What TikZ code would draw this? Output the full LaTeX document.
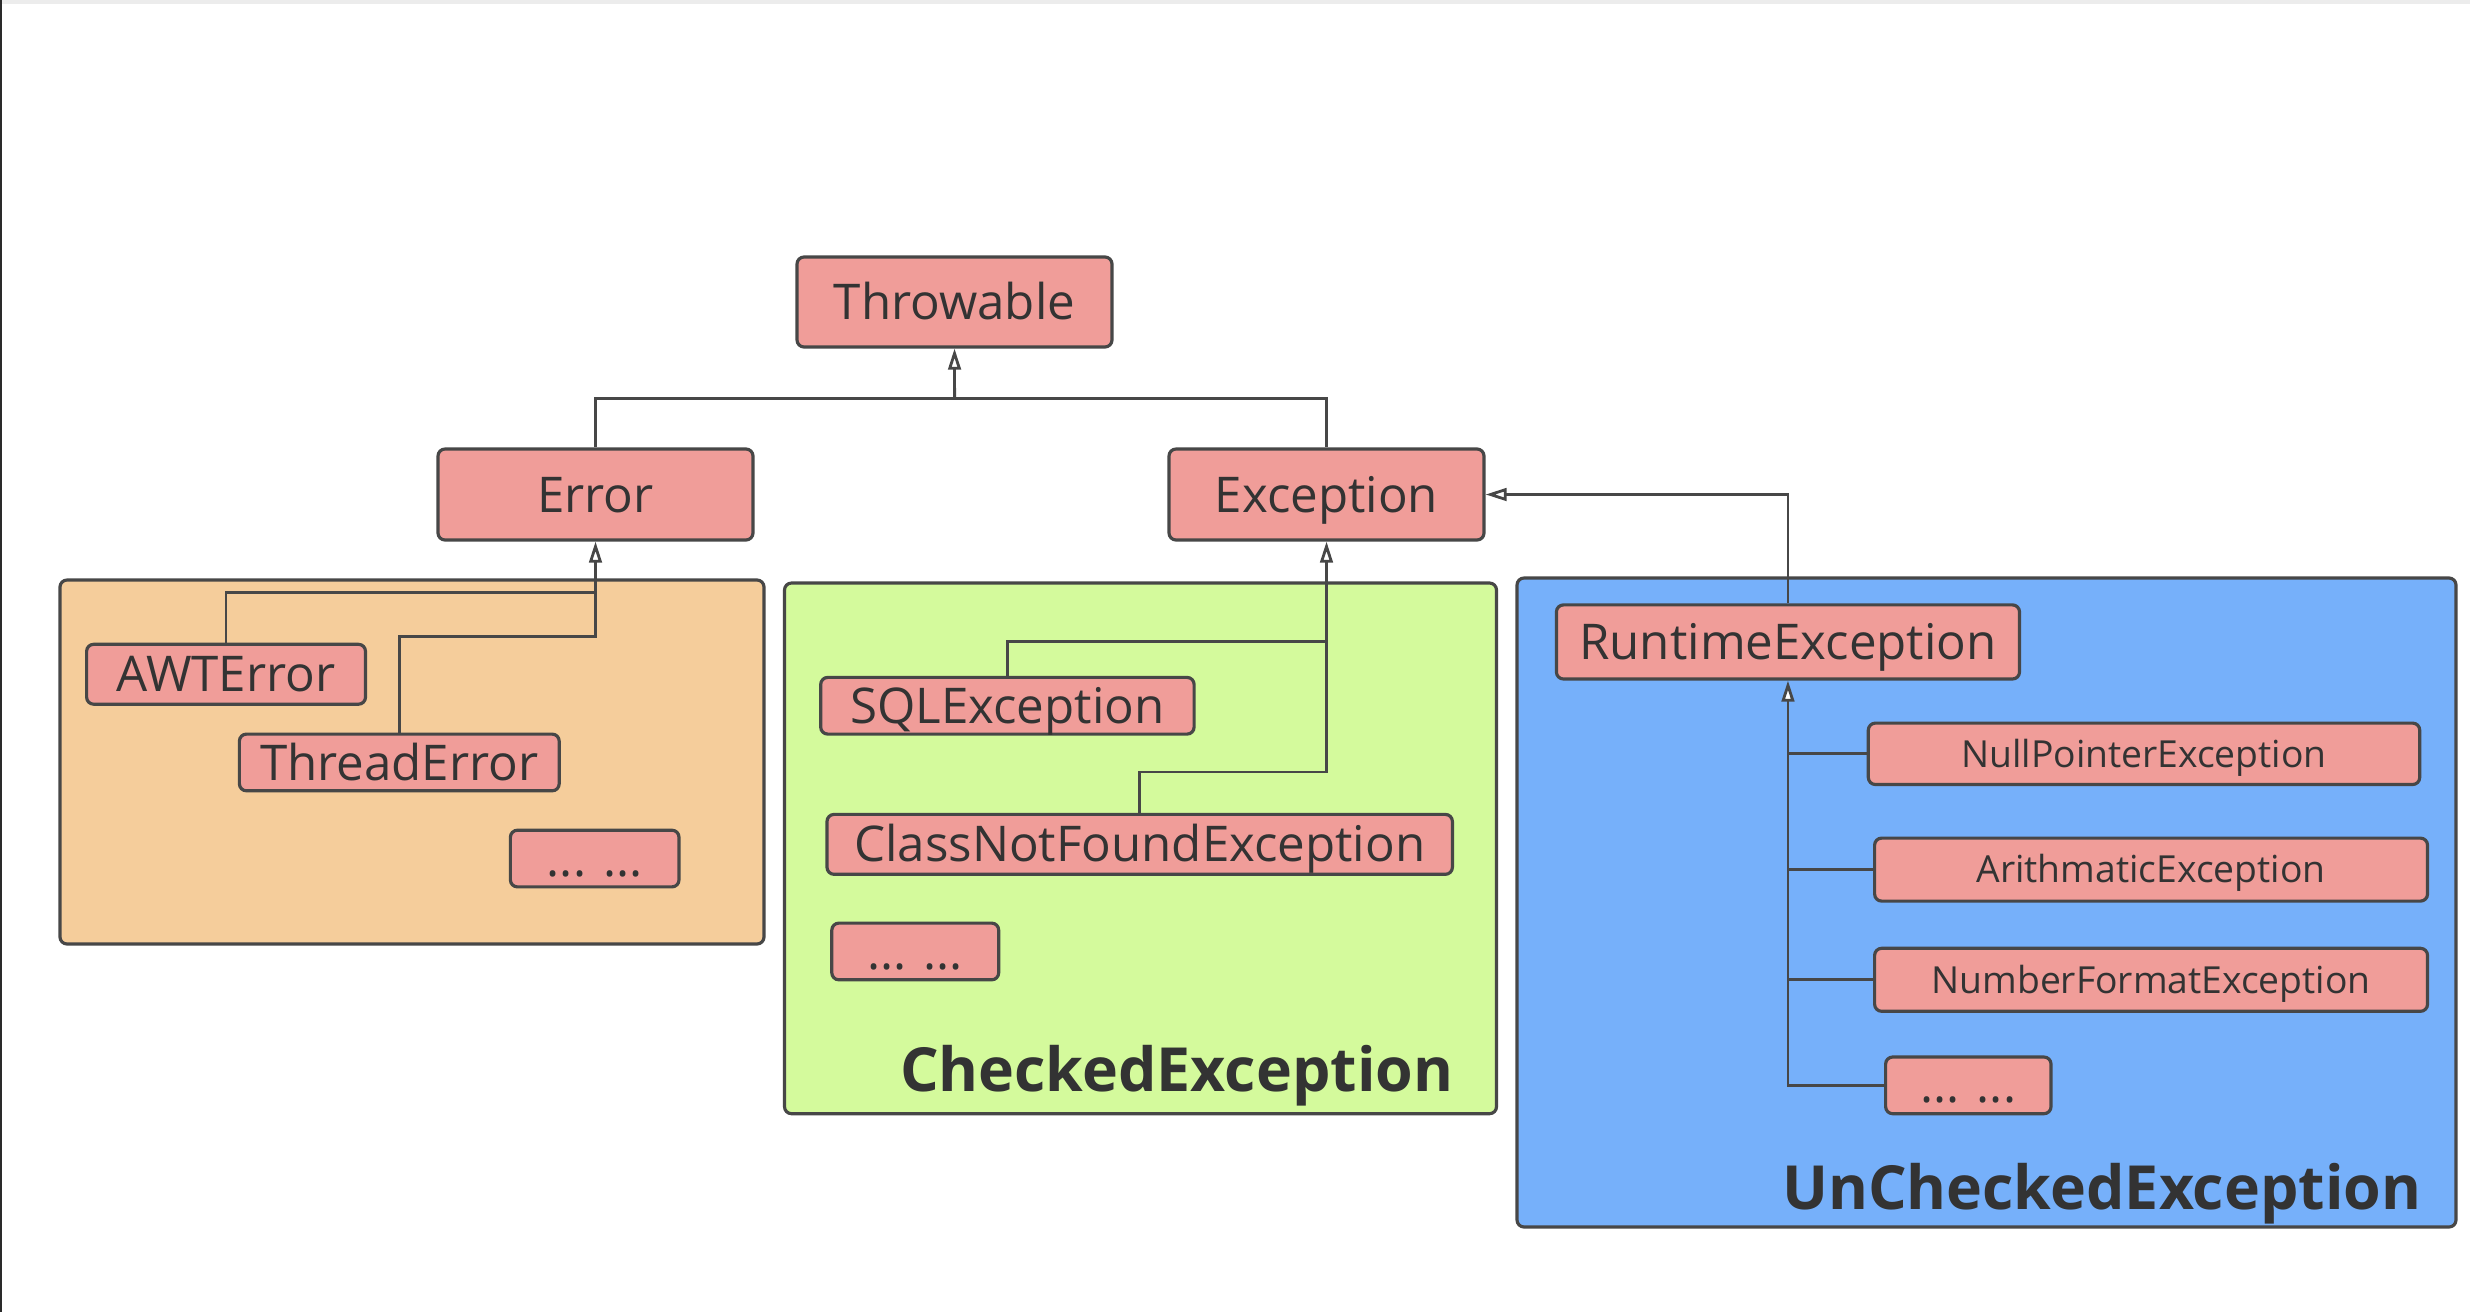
\documentclass[tikz,border=0pt]{standalone}
\usepackage{fontspec}
\setmainfont{Open Sans}
\usetikzlibrary{arrows.meta}
\definecolor{boxfill}{HTML}{F09D99}
\definecolor{edgec}{HTML}{474747}
\definecolor{txtc}{HTML}{333333}
\definecolor{orangefill}{HTML}{F5CD9B}
\definecolor{greenfill}{HTML}{D4FA9C}
\definecolor{bluefill}{HTML}{76B0FA}
\definecolor{topband}{HTML}{ECECEC}
\definecolor{leftedge}{HTML}{2A2A2A}
\newcommand\mkbox[7]{\node[#7, minimum width={(#4-#2)*0.01cm}, minimum height={(#5-#3)*0.01cm}] (#1) at ({(#2+#4)/2},{(#3+#5)/2}) {#6};}
\tikzset{
  pbox/.style={draw=edgec, fill=boxfill, line width=0.9pt, rounded corners=2pt, inner sep=0pt,
    text=txtc, font=\fontsize{14}{16}\selectfont, text height=10pt, text depth=0pt},
  sbox/.style={pbox, font=\fontsize{10.6}{12}\selectfont, text height=7.6pt},
  region/.style={draw=edgec, line width=0.9pt, rounded corners=2pt, inner sep=0pt},
  conn/.style={draw=edgec, line width=0.8pt},
  inh/.style={conn, -{Triangle[length=6pt,width=3.6pt,fill=white]}},
  biglabel/.style={text=txtc, inner sep=0pt, font=\fontsize{17.3}{20}\selectfont\bfseries}
}
\begin{document}
\begin{tikzpicture}[x=0.01cm,y=-0.01cm]
\fill[white] (0,0) rectangle (2470,1312);
\useasboundingbox (0,0) rectangle (2470,1312);
\fill[topband] (0,0) rectangle (2470,4);
\fill[leftedge] (0,0) rectangle (2,1312);

% regions
\mkbox{regErr}{60}{580}{764}{944}{}{region, fill=orangefill}
\mkbox{regChk}{784.5}{583}{1496.5}{1113.7}{}{region, fill=greenfill}
\mkbox{regUnc}{1517}{578}{2456}{1227}{}{region, fill=bluefill}

% classes
\mkbox{thr}{797}{257}{1112}{347}{Throwable}{pbox}
\mkbox{err}{438}{449}{753}{540}{Error}{pbox}
\mkbox{exc}{1169}{449}{1484}{540}{Exception}{pbox}
\mkbox{awt}{86.6}{644.3}{365.5}{704.2}{AWTError}{pbox}
\mkbox{thd}{239.4}{734.1}{559.2}{790.8}{ThreadError}{pbox}
\mkbox{odots}{510.4}{830.2}{679}{886.9}{... ...}{pbox}
\mkbox{sql}{820.7}{677.4}{1194.1}{734.1}{SQLException}{pbox}
\mkbox{cnf}{827}{814.4}{1452.4}{874.3}{ClassNotFoundException}{pbox}
\mkbox{gdots}{831.8}{923.1}{998.7}{979.8}{... ...}{pbox}
\mkbox{rte}{1556.4}{604.9}{2019.5}{679}{RuntimeException}{pbox}
\mkbox{npe}{1868.3}{723.1}{2419.7}{784.5}{NullPointerException}{sbox}
\mkbox{ari}{1874.6}{838.1}{2427.5}{901.1}{ArithmaticException}{sbox}
\mkbox{nfe}{1874.6}{948.3}{2427.5}{1011.3}{NumberFormatException}{sbox}
\mkbox{bdots}{1885.6}{1057}{2051}{1113.7}{... ...}{pbox}

% region labels
\node[biglabel, anchor=base east] (chkLbl) at (1454,1091) {CheckedException};
\node[biglabel, anchor=base east] (uncLbl) at (2422,1209) {UnCheckedException};

% connectors
\coordinate (bus) at (954.6,398.6);
\draw[conn] (err.north) |- (bus) -| (exc.north);
\draw[inh] (bus) -- (thr.south);

\coordinate (oj1) at (595.5,592.3);
\coordinate (oj2) at (595.5,636.4);
\draw[conn] (awt.north) |- (oj1);
\draw[conn] (thd.north) |- (oj2) -- (oj1);
\draw[inh] (oj1) -- (err.south);

\coordinate (gj1) at (1326.4,641.1);
\coordinate (gj2) at (1326.4,771.9);
\draw[conn] (sql.north) |- (gj1);
\draw[conn] (cnf.north) |- (gj2) -- (gj1);
\draw[inh] (gj1) -- (exc.south);

\draw[inh] (rte.north) |- (exc.east);

\draw[inh] (bdots.west) -| (rte.south);
\draw[conn] (npe.west) -- (npe.west -| rte.south);
\draw[conn] (ari.west) -- (ari.west -| rte.south);
\draw[conn] (nfe.west) -- (nfe.west -| rte.south);
\end{tikzpicture}
\end{document}
